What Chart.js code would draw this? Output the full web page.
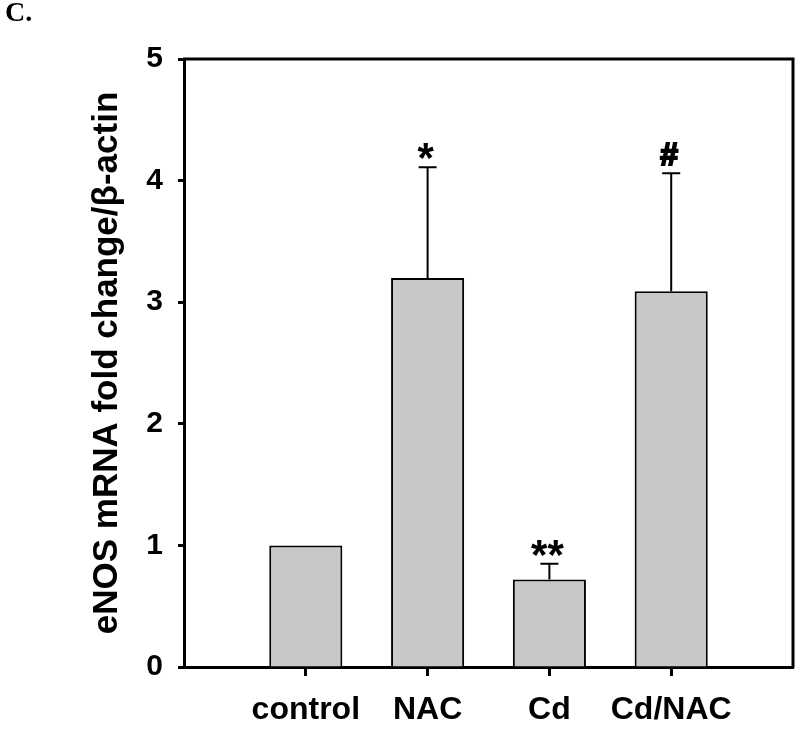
<!DOCTYPE html>
<html>
<head>
<meta charset="utf-8">
<title>eNOS mRNA fold change</title>
<script src="https://cdn.jsdelivr.net/npm/chart.js@4/dist/chart.umd.min.js"></script>
<style>
  body { margin: 0; background: #fff; }
  #wrap { position: relative; width: 800px; height: 732px; }
  #panel {
    position: absolute; left: 5px; top: -2px;
    font-family: "Liberation Serif", "DejaVu Serif", serif;
    font-size: 28px; font-weight: bold; line-height: 1; color: #000;
  }
</style>
</head>
<body>
<div id="wrap">
  <canvas id="barChart"></canvas>
  <div id="panel">C.</div>
</div>
<script>
// values
const categories = ['control', 'NAC', 'Cd', 'Cd/NAC'];
const foldChange = [1.0, 3.20, 0.72, 3.09];
const errorSD = [0, 0.91, 0.13, 0.97];
const marks = ['', '*', '**', '#'];
const yTickValues = [0, 1, 2, 3, 4, 5];

const FONT = '"Liberation Sans", Arial, sans-serif';

// error bars + significance marks, placed through the scales
const errorBars = {
  id: 'errorBars',
  afterDatasetsDraw(chart) {
    const ctx = chart.ctx;
    const xs = chart.scales.x, ys = chart.scales.y;
    ctx.save();
    ctx.strokeStyle = '#000';
    ctx.fillStyle = '#000';
    ctx.lineWidth = 2;
    foldChange.forEach((v, i) => {
      const px = xs.getPixelForValue(i + 1);
      let topY = ys.getPixelForValue(v);
      if (errorSD[i] > 0) {
        const capY = ys.getPixelForValue(v + errorSD[i]);
        ctx.beginPath();
        ctx.moveTo(px, ys.getPixelForValue(v));
        ctx.lineTo(px, capY);
        ctx.moveTo(px - 9, capY);
        ctx.lineTo(px + 9, capY);
        ctx.stroke();
        topY = capY;
      }
      if (marks[i]) {
        const isHash = marks[i] === '#';
        ctx.font = 'bold ' + (isHash ? 32 : 42) + 'px ' + FONT;
        ctx.textAlign = 'center';
        ctx.textBaseline = 'alphabetic';
        const m = ctx.measureText(marks[i]);
        const y = topY - 8 - m.actualBoundingBoxDescent;
        ctx.fillText(marks[i], px - 2, y);
        if (isHash) {
          // the printed hash is heavier than the font's
          ctx.lineWidth = 2;
          ctx.strokeText(marks[i], px - 2, y);
        }
      }
    });
    ctx.restore();
  }
};

// top and right sides of the box
const frame = {
  id: 'frame',
  afterDraw(chart) {
    const a = chart.chartArea, ctx = chart.ctx;
    ctx.save();
    ctx.strokeStyle = '#000';
    ctx.lineWidth = 3;
    ctx.beginPath();
    ctx.moveTo(a.left - 1, a.top);
    ctx.lineTo(a.right, a.top);
    ctx.lineTo(a.right, a.bottom + 1);
    ctx.stroke();
    ctx.restore();
  }
};

const ctx = document.getElementById('barChart').getContext('2d');
new Chart(ctx, {
  type: 'bar',
  data: {
    datasets: [{
      data: foldChange.map((v, i) => ({ x: i + 1, y: v })),
      backgroundColor: '#c9c7c7',
      borderColor: '#000',
      borderWidth: 2,
      barPercentage: 0.6,
      categoryPercentage: 1.0
    }]
  },
  plugins: [errorBars, frame],
  options: {
    responsive: true,
    maintainAspectRatio: false,
    animation: false,
    layout: { padding: { top: 59, right: 7, left: 0, bottom: 0 } },
    plugins: {
      legend: { display: false },
      tooltip: { enabled: false }
    },
    scales: {
      x: {
        type: 'linear',
        offset: false,
        min: 0,
        max: 5,
        afterBuildTicks: axis => { axis.ticks = categories.map((c, i) => ({ value: i + 1 })); },
        afterFit: axis => { axis.height = 65; },
        grid: {
          display: true, drawOnChartArea: false, drawTicks: true, offset: false,
          tickLength: 9, tickWidth: 3, tickColor: '#000', color: '#000'
        },
        border: { display: true, width: 3, color: '#000' },
        ticks: {
          color: '#000',
          padding: 15,
          maxRotation: 0,
          autoSkip: false,
          font: { family: FONT, size: 32, weight: 'bold' },
          callback: v => categories[v - 1] || ''
        }
      },
      y: {
        min: 0,
        max: 5,
        afterBuildTicks: axis => { axis.ticks = yTickValues.map(v => ({ value: v })); },
        afterFit: axis => { axis.width = 184; },
        grid: {
          display: true, drawOnChartArea: false, drawTicks: true,
          tickLength: 6, tickWidth: 3, tickColor: '#000', color: '#000'
        },
        border: { display: true, width: 3, color: '#000' },
        ticks: {
          color: '#000',
          padding: 15,
          font: { family: FONT, size: 30, weight: 'bold' }
        },
        title: {
          display: true,
          text: 'eNOS mRNA fold change/\u03b2-actin',
          color: '#000',
          padding: { top: 86, bottom: 0 },
          font: { family: FONT, size: 35, weight: 'bold' }
        }
      }
    }
  }
});
</script>
</body>
</html>
